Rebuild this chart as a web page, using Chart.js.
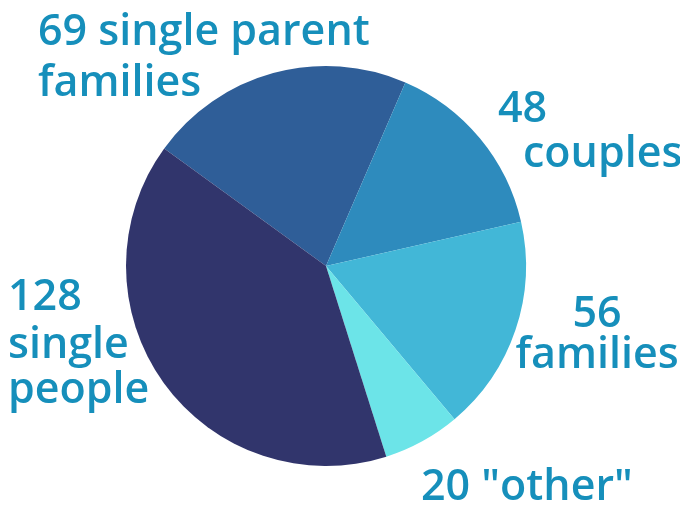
<!DOCTYPE html>
<html>
<head>
<meta charset="utf-8">
<script src="https://cdn.jsdelivr.net/npm/chart.js@4"></script>
<style>
  html, body { margin: 0; padding: 0; background: #fff; }
  #wrap { width: 680px; height: 506px; }
</style>
</head>
<body>
<div id="wrap"><canvas id="householdChart" width="680" height="506"></canvas></div>
<script>
const categories = ['single parent families', 'couples', 'families', '"other"', 'single people'];
const counts = [69, 48, 56, 20, 128];
const sliceColors = ['#2f5e98', '#2e8bbd', '#42b7d7', '#6ce4e8', '#31356c'];

// label lines per slice (first line holds the number)
const labelLines = [
  ['69 single parent', 'families'],
  ['48', 'couples'],
  ['56', 'families'],
  ['20 "other"'],
  ['128', 'single', 'people']
];

// where each text line sits: [x, baseline y, align]
const labelSpots = [
  [[38, 45, 'left'], [38, 96, 'left']],
  [[498, 122, 'left'], [523, 167, 'left']],
  [[597, 327, 'center'], [597, 368, 'center']],
  [[421, 500, 'left']],
  [[8, 310, 'left'], [8, 358, 'left'], [8, 403, 'left']]
];

const textPlugin = {
  id: 'sliceText',
  afterDraw(chart) {
    const c = chart.ctx;
    c.save();
    c.fillStyle = '#168fbb';
    c.font = '600 43px "Open Sans"';
    c.textBaseline = 'alphabetic';
    labelLines.forEach((lines, i) => {
      lines.forEach((txt, j) => {
        const spot = labelSpots[i][j];
        c.textAlign = spot[2];
        c.fillText(txt, spot[0], spot[1]);
      });
    });
    c.restore();
  }
};

const ctx = document.getElementById('householdChart').getContext('2d');
const householdChart = new Chart(ctx, {
  type: 'pie',
  data: {
    labels: categories,
    datasets: [{
      data: counts,
      backgroundColor: sliceColors,
      borderWidth: 0
    }]
  },
  options: {
    responsive: false,
    animation: false,
    rotation: -54,
    layout: { padding: { left: 126, right: 154, top: 66, bottom: 40 } },
    plugins: {
      legend: { display: false },
      tooltip: { enabled: false }
    }
  },
  plugins: [textPlugin]
});
</script>
</body>
</html>
